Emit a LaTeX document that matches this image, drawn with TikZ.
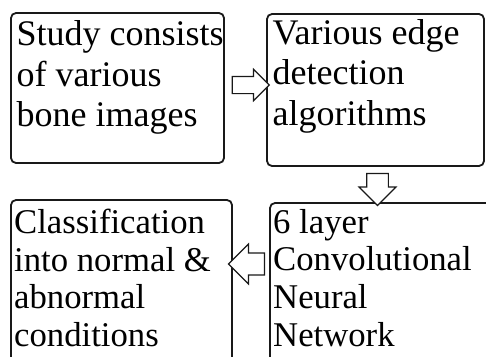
\documentclass[tikz,border=0pt]{standalone}
\usepackage{fontspec}
\setmainfont{Liberation Serif}
\usetikzlibrary{shapes.arrows}

\tikzset{
  x=1pt, y=-1pt,
  stagebox/.style={draw=black!90, line width=1.8pt, rounded corners=5pt,
    inner sep=0pt},
  toptext/.style={anchor=north west, inner sep=0pt, align=left,
    font=\fontsize{36}{40.5}\selectfont},
  lowtext/.style={anchor=north west, inner sep=0pt, align=left,
    font=\fontsize{34.7}{37.6}\selectfont},
  blockarrow/.style={single arrow, draw=black!90, fill=white, line width=1.2pt,
    inner xsep=0pt, single arrow tip angle=90}
}

\begin{document}
\begin{tikzpicture}
  \useasboundingbox (0,0) rectangle (486,356);
  \clip (0,0) rectangle (486,356);

  % stage boxes (the lower ones run off the bottom/right edge)
  \draw[stagebox] (11,13) rectangle (224,163);
  \draw[stagebox] (267,14) rectangle (484,166);
  \draw[stagebox] (11,200) rectangle (232,380);
  \draw[stagebox] (270,203) rectangle (510,380);

  % stage texts
  \node[toptext] (t1) at (16.5,20.5) {Study consists\\of various\\bone images};
  \node[toptext] (t2) at (272.5,19) {Various edge\\detection\\algorithms};
  \node[lowtext] (t3) at (14,209) {Classification\\into normal \&\\abnormal\\conditions};
  \node[lowtext] (t4) at (273,209) {6 layer\\Convolutional\\Neural\\Network};

  % block arrows between the stages
  \node[blockarrow, minimum height=37pt, minimum width=24pt, inner ysep=8pt]
    (a12) at (246.5,85) {};
  \node[blockarrow, rotate=-90, minimum height=32pt, minimum width=37pt, inner ysep=9.5pt]
    (a24) at (377.5,184) {};
  \node[blockarrow, rotate=180, minimum height=36pt, minimum width=40pt, inner ysep=8pt]
    (a43) at (252,264) {};
\end{tikzpicture}
\end{document}
